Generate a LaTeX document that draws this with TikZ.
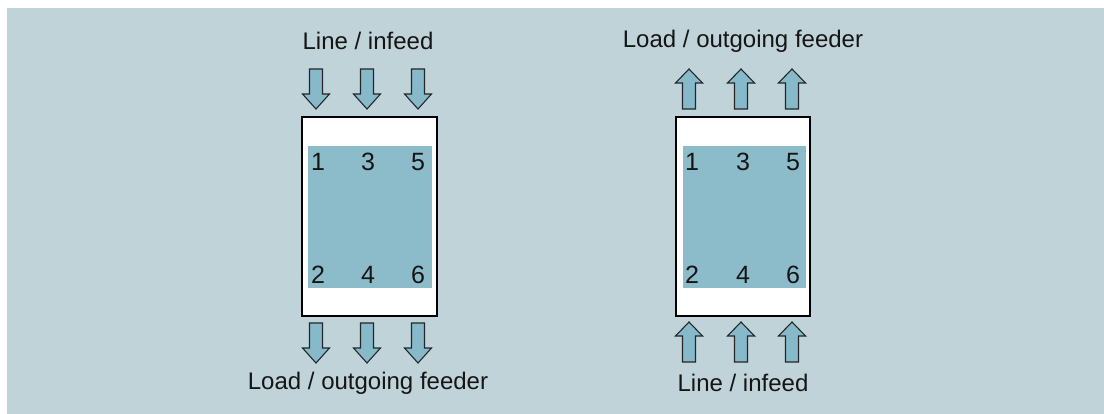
\documentclass[tikz,border=0pt]{standalone}
\usepackage{fontspec}
\setmainfont{Liberation Sans}
\definecolor{bgc}{HTML}{BFD3D8}
\definecolor{innerc}{HTML}{8CBBCA}
\definecolor{arrowc}{HTML}{86BACB}
\definecolor{txtc}{HTML}{151515}
\tikzset{
  lbl/.style={font=\fontsize{24}{28}\selectfont, text=txtc, inner sep=0pt},
  num/.style={font=\fontsize{25}{29}\selectfont, text=txtc, inner sep=0pt},
  outerbox/.style={draw=black, line width=1.6pt, fill=white},
  innerbox/.style={fill=innerc},
  arr/.style={draw=black!85, line width=1.1pt, fill=arrowc, line join=miter},
  pics/darrow/.style={code={
    \draw[arr] (-6.5,0) -- (6.5,0) -- (6.5,25) -- (13.5,25) -- (0,40) -- (-13.5,25) -- (-6.5,25) -- cycle;
  }},
  pics/uarrow/.style={code={
    \draw[arr] (-6.5,40) -- (6.5,40) -- (6.5,14) -- (13.5,14) -- (0,0) -- (-13.5,14) -- (-6.5,14) -- cycle;
  }}
}
\begin{document}
\begin{tikzpicture}[x=1pt,y=-1pt]
\useasboundingbox (0,0) rectangle (1104,414);
\fill[white] (0,0) rectangle (1104,414);
\fill[bgc] (7,8) rectangle (1104,414);

% left device
\draw[outerbox] (302,117) rectangle (437,316);
\fill[innerbox] (308,146) rectangle (432,288);
\node[num] (l1) at (318,162) {1};
\node[num] (l3) at (368,162) {3};
\node[num] (l5) at (418,162) {5};
\node[num] (l2) at (318,275) {2};
\node[num] (l4) at (368,275) {4};
\node[num] (l6) at (418,275) {6};
\node[lbl] (ltop) at (368,41) {Line / infeed};
\node[lbl] (lbot) at (368,383) {Load / outgoing feeder};
\pic at (316,69) {darrow};
\pic at (367,69) {darrow};
\pic at (418,69) {darrow};
\pic at (316,323) {darrow};
\pic at (367,323) {darrow};
\pic at (418,323) {darrow};

% right device
\draw[outerbox] (676,117) rectangle (810,316);
\fill[innerbox] (683,146) rectangle (806,288);
\node[num] (r1) at (692,162) {1};
\node[num] (r3) at (743,162) {3};
\node[num] (r5) at (793,162) {5};
\node[num] (r2) at (692,275) {2};
\node[num] (r4) at (743,275) {4};
\node[num] (r6) at (793,275) {6};
\node[lbl] (rtop) at (743,41) {Load / outgoing feeder};
\node[lbl] (rbot) at (743,383) {Line / infeed};
\pic at (689,69) {uarrow};
\pic at (741,69) {uarrow};
\pic at (792,69) {uarrow};
\pic at (689,322) {uarrow};
\pic at (741,322) {uarrow};
\pic at (792,322) {uarrow};
\end{tikzpicture}
\end{document}
